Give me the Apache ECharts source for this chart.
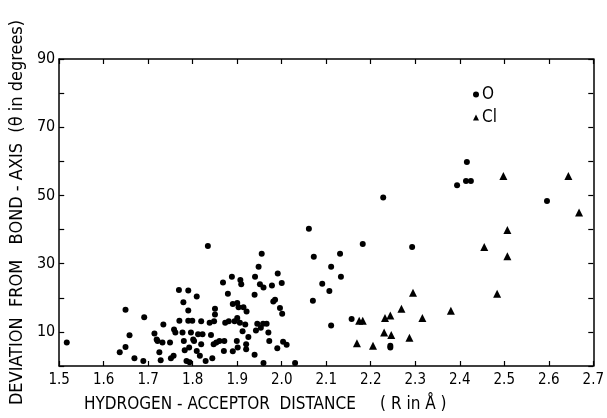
<!DOCTYPE html>
<html>
<head>
<meta charset="utf-8">
<script src="https://cdn.jsdelivr.net/npm/echarts@6/dist/echarts.min.js"></script>
<style>
html,body{margin:0;padding:0;background:#fff;}
#chart{width:607px;height:418px;}
</style>
</head>
<body>
<div id="chart"></div>
<script>
// Oxygen acceptors: [distance R (Å), deviation θ (deg)]
const oxygenX = [1.517,1.636,1.649,1.649,1.658,1.669,1.689,1.691,1.714,1.719,1.721,1.725,1.728,1.734,1.732,1.749,1.751,1.757,1.758,1.761,1.769,1.770,1.777,1.779,1.780,1.782,1.786,1.790,1.790,1.790,1.792,1.793,1.796,1.799,1.801,1.803,1.809,1.809,1.812,1.816,1.819,1.819,1.822,1.829,1.834,1.838,1.841,1.844,1.847,1.848,1.850,1.850,1.853,1.860,1.868,1.870,1.871,1.873,1.879,1.881,1.888,1.890,1.890,1.894,1.899,1.900,1.900,1.901,1.903,1.906,1.907,1.909,1.912,1.914,1.918,1.920,1.920,1.921,1.925,1.939,1.939,1.940,1.942,1.945,1.948,1.951,1.953,1.955,1.958,1.959,1.959,1.966,1.970,1.972,1.978,1.981,1.985,1.990,1.991,1.996,2.000,2.001,2.003,2.011,2.030,2.061,2.070,2.072,2.091,2.107,2.111,2.111,2.131,2.133,2.157,2.182,2.228,2.244,2.244,2.293,2.394,2.416,2.414,2.425,2.596];
const oxygenY = [6.9,4.0,16.5,5.6,9.0,2.3,1.5,14.3,9.5,7.8,7.3,4.0,1.7,12.2,6.9,6.9,2.3,3.0,10.7,9.8,22.3,13.3,9.8,18.7,7.3,4.6,1.5,22.1,16.3,13.3,5.4,1.1,9.8,13.3,7.8,7.3,20.4,4.4,9.3,3.0,6.4,13.1,9.3,1.5,35.2,12.7,9.1,2.3,6.4,13.1,16.8,15.1,6.9,7.3,24.5,4.4,7.3,12.7,21.2,13.1,26.2,4.3,18.2,13.1,7.3,18.5,14.1,5.4,17.2,12.7,25.2,24.0,10.2,17.2,12.2,6.4,4.9,16.0,8.5,20.9,3.3,26.2,10.4,12.4,29.1,24.0,11.2,32.9,12.4,23.0,0.9,12.4,9.8,7.3,23.6,18.9,19.4,5.2,27.1,17.0,24.3,15.3,7.1,6.2,0.9,40.2,19.1,32.0,24.1,22.0,11.9,29.1,32.9,26.2,13.8,35.8,49.4,5.9,5.4,34.9,53.0,59.8,54.2,54.2,48.4];
// Chlorine acceptors
const chlorineX = [2.169,2.174,2.182,2.205,2.230,2.232,2.244,2.246,2.269,2.287,2.295,2.316,2.380,2.455,2.484,2.498,2.507,2.507,2.644,2.668];
const chlorineY = [6.7,13.3,13.3,5.9,9.8,14.1,14.8,9.1,16.8,8.3,21.5,14.1,16.2,34.9,21.2,55.7,39.9,32.2,55.7,45.0];
const yTickLabels = [10,30,50,70,90];
const seriesNames = ['O','Cl'];
const xAxisName = 'HYDROGEN - ACCEPTOR  DISTANCE     ( R in Å )';
const yAxisName = 'DEVIATION  FROM   BOND - AXIS  (θ in degrees)';

const zip = (a,b)=>a.map((v,i)=>[v,b[i]]);
const FONT = 'DejaVu Sans Condensed';
const ink = '#000';

const chart = echarts.init(document.getElementById('chart'), null, {renderer:'canvas'});
const axisCommon = {
  type:'value',
  axisLine:{show:true,onZero:false,lineStyle:{color:ink,width:1.5}},
  axisTick:{show:true,inside:true,length:5,lineStyle:{color:ink,width:1.2}},
  splitLine:{show:false}
};
chart.setOption({
  backgroundColor:'#fff',
  animation:false,
  grid:{left:57,right:10,top:59,bottom:50,containLabel:false},
  legend:{
    orient:'vertical', left:468, top:81, itemWidth:6, itemHeight:6, itemGap:6,
    textStyle:{fontFamily:FONT,fontSize:17,color:ink,padding:[0,0,0,-2]},
    data:[{name:seriesNames[0],icon:'circle'},{name:seriesNames[1],icon:'triangle'}]
  },
  xAxis:[
    Object.assign({}, axisCommon, {
      min:1.5, max:2.7, interval:0.1, position:'bottom',
      axisLabel:{color:ink,fontFamily:FONT,fontSize:15,margin:7,formatter:v=>v.toFixed(1)},
      name:xAxisName, nameLocation:'middle', nameGap:30,
      nameTextStyle:{color:ink,fontFamily:FONT,fontSize:17,padding:[0,122,0,0]}
    }),
    Object.assign({}, axisCommon, {
      min:1.5, max:2.7, interval:0.1, position:'top', axisLabel:{show:false}
    })
  ],
  yAxis:[
    Object.assign({}, axisCommon, {
      min:0, max:90, interval:10, position:'left',
      axisLabel:{color:ink,fontFamily:FONT,fontSize:16,margin:4,
        formatter:v=>yTickLabels.indexOf(Math.round(v))>=0?String(Math.round(v)):''},
      name:yAxisName, nameLocation:'middle', nameGap:32,
      nameTextStyle:{color:ink,fontFamily:FONT,fontSize:18}
    }),
    Object.assign({}, axisCommon, {
      min:0, max:90, interval:10, position:'right', axisLabel:{show:false}
    })
  ],
  series:[
    {name:seriesNames[0],type:'scatter',symbol:'circle',symbolSize:6,
     itemStyle:{color:ink,opacity:1},data:zip(oxygenX,oxygenY)},
    {name:seriesNames[1],type:'scatter',symbol:'triangle',symbolSize:8,
     itemStyle:{color:ink,opacity:1},data:zip(chlorineX,chlorineY)}
  ]
});
</script>
</body>
</html>
